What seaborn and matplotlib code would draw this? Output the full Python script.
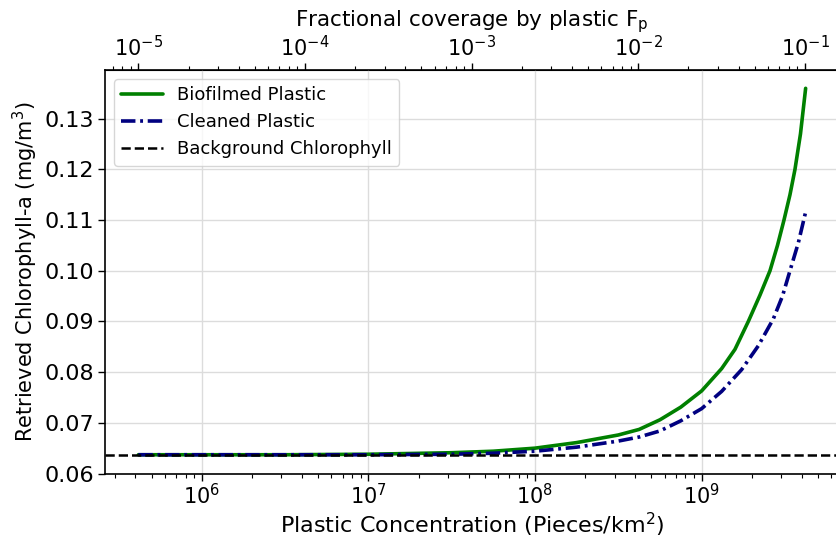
import numpy as np
import pandas as pd
import matplotlib
matplotlib.use("Agg")
import matplotlib.pyplot as plt
import seaborn as sns
from matplotlib.lines import Line2D

# log10 of plastic concentration (pieces per km^2) and retrieved chlorophyll-a (mg/m^3)
biofilmed_logc = [5.62, 6.0, 6.5, 7.0, 7.5, 7.75, 8.0, 8.25, 8.5, 8.625, 8.75, 8.875,
                  9.0, 9.12, 9.2, 9.28, 9.35, 9.41, 9.455, 9.494, 9.53, 9.56, 9.593, 9.624]
biofilmed_chl = [0.0637, 0.0637, 0.0637, 0.0638, 0.0641, 0.0644, 0.0650, 0.0661, 0.0676,
                 0.0687, 0.0706, 0.0731, 0.0763, 0.0807, 0.0845, 0.0900, 0.0952, 0.1000,
                 0.1050, 0.1100, 0.1150, 0.1200, 0.1270, 0.1360]

cleaned_logc = [5.62, 6.0, 6.5, 7.0, 7.5, 7.75, 8.0, 8.25, 8.5, 8.625, 8.75, 8.875,
                9.0, 9.12, 9.24, 9.34, 9.43, 9.485, 9.53, 9.58, 9.624]
cleaned_chl = [0.0637, 0.0637, 0.0637, 0.0637, 0.0638, 0.0640, 0.0644, 0.0652, 0.0664,
               0.0672, 0.0684, 0.0704, 0.0728, 0.0762, 0.0805, 0.0852, 0.0905, 0.0950,
               0.1000, 0.1055, 0.1116]

background_chl = 0.0637

# fractional coverage F_p of the lowest concentration, and top-axis ticks
coverage_at_start = 1e-5
coverage_per_piece = coverage_at_start / 10 ** biofilmed_logc[0]
coverage_ticks = [1e-5, 1e-4, 1e-3, 1e-2, 1e-1]

series_names = ["Biofilmed Plastic", "Cleaned Plastic"]

df = pd.DataFrame({
    "conc": [10 ** v for v in biofilmed_logc] + [10 ** v for v in cleaned_logc],
    "chl": biofilmed_chl + cleaned_chl,
    "type": [series_names[0]] * len(biofilmed_logc) + [series_names[1]] * len(cleaned_logc),
})

sns.set_style("ticks", {"axes.grid": True, "grid.color": "#dcdcdc",
                        "axes.edgecolor": "black"})
plt.rcParams["font.family"] = ["DejaVu Sans"]
for key in ["text.color", "axes.labelcolor", "xtick.color", "ytick.color"]:
    plt.rcParams[key] = "black"
plt.rcParams["xtick.direction"] = "out"
plt.rcParams["ytick.direction"] = "out"

fig = plt.figure(figsize=(8.37, 5.39), dpi=100)
ax = fig.add_axes([105 / 837, 1 - 473.5 / 539, 734 / 837, 403.5 / 539])

dash_dot = (4.0, 1.3, 0.8, 1.3)
sns.lineplot(data=df, x="conc", y="chl", hue="type", style="type",
             palette={series_names[0]: "green", series_names[1]: "navy"},
             dashes={series_names[0]: "", series_names[1]: dash_dot},
             linewidth=2.6, ax=ax, legend=False, sort=False)
ax.axhline(background_chl, color="black", linestyle="--", linewidth=1.8)

ax.set_xscale("log")
ax.set_ylim(bottom=0.06)
ax.set_yticks([0.06, 0.07, 0.08, 0.09, 0.10, 0.11, 0.12, 0.13])
ax.yaxis.set_major_formatter(matplotlib.ticker.FormatStrFormatter("%.2f"))
ax.grid(True, which="major", color="#dcdcdc", linewidth=1.0)
ax.grid(False, which="minor")

ax.tick_params(axis="y", labelsize=16, length=5, width=1.0, pad=3)
ax.tick_params(axis="x", which="major", labelsize=15, length=5, width=1.0, pad=2)
ax.tick_params(axis="x", which="minor", length=3, width=0.8)

ax.set_xlabel("Plastic Concentration (Pieces/km$^2$)", fontsize=16, labelpad=2)
ax.set_ylabel("Retrieved Chlorophyll-a (mg/m$^3$)", fontsize=15, labelpad=3)

for s in ax.spines.values():
    s.set_color("black")
    s.set_linewidth(1.2)

secax = ax.secondary_xaxis("top", functions=(lambda x: x * coverage_per_piece,
                                               lambda f: f / coverage_per_piece))
secax.set_xticks(coverage_ticks)
secax.xaxis.set_major_formatter(matplotlib.ticker.LogFormatterSciNotation())
secax.xaxis.set_minor_locator(matplotlib.ticker.LogLocator(base=10, subs=np.arange(2, 10)))
secax.xaxis.set_minor_formatter(matplotlib.ticker.NullFormatter())
secax.tick_params(axis="x", which="major", labelsize=15, length=5, width=1.0, pad=2)
secax.tick_params(axis="x", which="minor", length=3, width=0.8)
secax.set_xlabel("Fractional coverage by plastic $\\mathregular{F_p}$", fontsize=15.5, labelpad=6)

handles = [Line2D([], [], color="green", linewidth=2.6),
           Line2D([], [], color="navy", linewidth=2.6, dashes=dash_dot),
           Line2D([], [], color="black", linestyle="--", linewidth=1.8)]
ax.legend(handles, series_names + ["Background Chlorophyll"], loc="upper left",
          fontsize=13, handlelength=2.3, frameon=True, edgecolor="#cccccc")

fig.savefig("out.png", dpi=100)
